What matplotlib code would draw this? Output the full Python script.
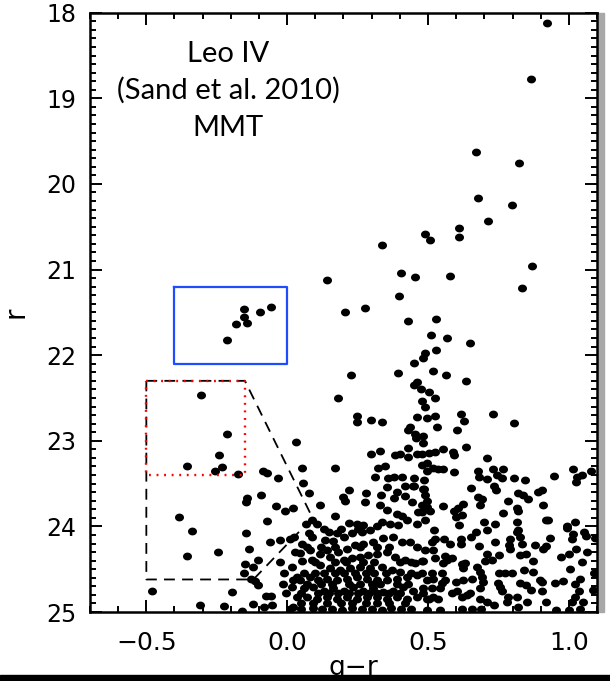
import numpy as np
import matplotlib
matplotlib.use('Agg')
import matplotlib.pyplot as plt
from matplotlib.path import Path
from matplotlib.patches import Rectangle
from matplotlib.ticker import MultipleLocator, FixedLocator, FixedFormatter

# (g-r, r) photometry, grouped by CMD region
bright_stars = [
    (0.921, 18.12), (0.864, 18.77), (0.671, 19.63), (0.823, 19.75), (0.677, 20.17),
    (0.798, 20.25), (0.713, 20.43), (0.609, 20.51), (0.610, 20.62), (0.488, 20.59),
    (0.507, 20.66), (0.338, 20.71), (0.142, 21.12), (0.403, 21.04), (0.453, 21.09),
    (0.579, 21.07), (0.869, 20.96), (0.834, 21.22), (0.397, 21.31), (0.207, 21.50),
    (0.277, 21.45), (0.428, 21.60), (0.528, 21.58), (0.511, 21.77), (0.567, 21.80),
    (0.489, 21.97), (0.528, 21.94), (0.481, 22.03), (0.451, 22.09), (0.649, 21.86),
]

bhb_stars = [
    (-0.152, 21.46), (-0.058, 21.44), (-0.097, 21.50), (-0.152, 21.56),
    (-0.141, 21.62), (-0.181, 21.64), (-0.215, 21.82),
]

bs_stars = [
    (-0.306, 22.47), (-0.212, 22.92), (-0.241, 23.17), (-0.357, 23.29),
    (-0.233, 23.31), (-0.255, 23.35), (-0.175, 23.39),
]

rgb_stars = [
    (0.226, 22.23), (0.393, 22.21), (0.519, 22.19), (0.563, 22.23), (0.635, 22.30),
    (0.180, 22.50), (0.460, 22.31), (0.451, 22.35), (0.476, 22.40), (0.502, 22.43),
    (0.525, 22.50), (0.479, 22.53), (0.490, 22.60), (0.496, 22.73), (0.525, 22.71),
    (0.531, 22.84), (0.618, 22.69), (0.628, 22.77), (0.602, 22.88), (0.729, 22.69),
    (0.806, 22.79), (0.635, 23.07), (0.483, 22.95), (0.483, 23.03), (0.478, 23.15),
    (0.502, 23.14), (0.525, 23.13), (0.552, 23.10), (0.590, 23.13), (0.592, 23.17),
    (0.496, 23.26), (0.478, 23.28), (0.496, 23.35), (0.537, 23.33), (0.554, 23.33),
    (0.593, 23.37), (0.486, 23.46), (0.486, 23.56), (0.249, 22.71), (0.249, 22.78),
    (0.297, 22.76), (0.336, 22.78), (0.462, 22.72), (0.436, 22.84), (0.454, 22.92),
    (0.430, 22.88), (0.457, 22.97), (0.298, 23.15), (0.330, 23.12), (0.383, 23.17),
    (0.401, 23.15), (0.430, 23.09), (0.430, 23.19), (0.460, 23.15), (0.052, 23.32),
    (0.170, 23.32), (0.359, 23.43), (0.381, 23.42), (0.407, 23.42), (0.451, 23.53),
    (0.451, 23.43), (0.489, 23.63), (0.519, 23.32), (0.348, 23.30), (0.324, 23.32),
    (0.312, 23.42), (0.031, 23.02), (-0.085, 23.35), (-0.072, 23.38), (-0.031, 23.44),
    (0.708, 23.20), (0.678, 23.35), (0.682, 23.42), (0.708, 23.45), (0.732, 23.33),
    (0.767, 23.33), (0.744, 23.40), (0.761, 23.43), (0.806, 23.43), (0.844, 23.46),
    (0.734, 23.53), (0.741, 23.58), (0.652, 23.55), (0.820, 23.61), (0.838, 23.63),
    (0.856, 23.68), (0.891, 23.60), (0.905, 23.58), (0.947, 23.41), (1.015, 23.33),
    (1.030, 23.42), (1.027, 23.48), (1.048, 23.40), (1.080, 23.35),
]

faint_blue = [
    (-0.383, 23.89), (-0.338, 24.05), (-0.355, 24.35), (-0.245, 24.30), (-0.480, 24.76),
    (-0.309, 24.92), (-0.195, 24.77), (-0.223, 24.93), (-0.143, 23.67), (-0.145, 23.71),
    (-0.092, 23.63), (-0.038, 23.76), (-0.007, 23.82), (0.020, 23.78), (-0.071, 23.94),
    (-0.145, 24.08), (-0.061, 24.18), (-0.027, 24.16), (-0.136, 24.26), (-0.102, 24.39),
    (-0.149, 24.44), (-0.123, 24.48), (-0.129, 24.62), (-0.105, 24.69), (-0.123, 24.91),
    (-0.076, 24.81), (-0.058, 24.81), (-0.084, 24.94), (-0.054, 24.92), (-0.027, 24.42),
    (-0.010, 24.55), (-0.015, 24.67), (-0.004, 24.78), (0.018, 24.47), (0.022, 24.63),
    (0.019, 24.94), (0.025, 24.12), (0.011, 24.15), (0.027, 24.30), (-0.155, 24.54),
    (-0.113, 24.64), (-0.161, 24.99),
]

faint_msto = [
    (0.056, 23.49), (0.078, 23.61), (0.116, 23.75), (0.197, 23.66), (0.221, 23.58),
    (0.206, 23.70), (0.280, 23.61), (0.277, 23.71), (0.353, 23.54), (0.389, 23.60),
    (0.417, 23.53), (0.448, 23.53), (0.484, 23.56), (0.333, 23.63), (0.379, 23.67),
    (0.418, 23.65), (0.442, 23.71), (0.466, 23.83), (0.495, 23.77), (0.330, 23.75),
    (0.353, 23.81), (0.389, 23.85), (0.407, 23.88), (0.170, 23.88), (0.220, 23.96),
    (0.247, 23.97), (0.271, 23.98), (0.067, 23.97), (0.107, 23.97), (0.076, 24.08),
    (0.087, 24.12), (0.147, 24.06), (0.176, 24.08), (0.135, 24.16), (0.164, 24.17),
    (0.200, 24.12), (0.229, 24.08), (0.265, 24.06), (0.294, 24.04), (0.318, 24.00),
    (0.336, 23.95), (0.365, 23.97), (0.395, 23.98), (0.424, 23.93), (0.460, 23.97),
    (0.489, 23.93), (0.052, 24.20), (0.052, 24.41), (0.087, 24.39), (0.046, 24.31),
    (0.082, 24.28), (0.117, 24.32), (0.141, 24.28), (0.152, 24.36), (0.182, 24.30),
    (0.212, 24.26), (0.241, 24.22), (0.271, 24.20), (0.306, 24.18), (0.342, 24.14),
    (0.377, 24.12), (0.407, 24.18), (0.436, 24.18), (0.460, 24.24), (0.489, 24.28),
    (0.200, 24.39), (0.229, 24.37), (0.259, 24.36), (0.288, 24.34), (0.318, 24.32),
    (0.353, 24.30), (0.383, 24.36), (0.418, 24.39), (0.454, 24.43), (0.484, 24.41),
    (0.117, 24.45), (0.152, 24.49), (0.188, 24.51), (0.223, 24.49), (0.259, 24.47),
    (0.294, 24.49), (0.336, 24.47), (0.371, 24.51), (0.401, 24.53), (0.034, 24.59),
    (0.046, 24.63), (0.082, 24.59), (0.111, 24.63), (0.141, 24.61), (0.176, 24.63),
    (0.212, 24.61), (0.247, 24.59), (0.283, 24.61), (0.318, 24.63), (0.353, 24.63),
    (0.389, 24.61), (0.424, 24.59), (0.460, 24.57), (0.495, 24.63), (0.017, 24.71),
    (0.058, 24.72), (0.093, 24.71), (0.129, 24.75), (0.164, 24.72), (0.200, 24.75),
    (0.235, 24.71), (0.271, 24.75), (0.306, 24.72), (0.342, 24.77), (0.377, 24.75),
    (0.412, 24.71), (0.448, 24.75), (0.484, 24.72), (0.034, 24.83), (0.070, 24.82),
    (0.105, 24.85), (0.141, 24.83), (0.176, 24.85), (0.212, 24.82), (0.247, 24.85),
    (0.283, 24.83), (0.318, 24.82), (0.353, 24.85), (0.389, 24.83), (0.424, 24.85),
    (0.460, 24.82), (0.495, 24.85), (0.011, 24.96), (0.050, 24.97), (0.090, 24.95),
    (0.125, 24.97), (0.160, 24.96), (0.195, 24.98), (0.230, 24.95), (0.265, 24.97),
    (0.300, 24.96), (0.335, 24.98), (0.370, 24.95), (0.405, 24.97), (0.440, 24.96),
    (0.087, 23.93),
]

# crowded core of the main-sequence turnoff
faint_core = [
    (0.130, 24.03), (0.190, 24.03), (0.250, 24.03),
    (0.070, 24.24), (0.120, 24.24), (0.170, 24.24), (0.260, 24.24), (0.320, 24.24),
    (0.360, 24.24),
    (0.100, 24.42), (0.170, 24.42), (0.210, 24.42), (0.270, 24.42), (0.310, 24.42),
    (0.400, 24.42), (0.440, 24.42),
    (0.060, 24.55), (0.100, 24.55), (0.130, 24.55), (0.170, 24.55), (0.200, 24.55),
    (0.240, 24.55), (0.280, 24.55), (0.310, 24.55), (0.350, 24.55), (0.440, 24.55),
    (0.070, 24.67), (0.120, 24.67), (0.160, 24.67), (0.220, 24.67), (0.260, 24.67),
    (0.300, 24.67), (0.330, 24.67), (0.390, 24.67), (0.430, 24.67),
    (0.050, 24.78), (0.110, 24.78), (0.150, 24.78), (0.180, 24.78), (0.220, 24.78),
    (0.250, 24.78), (0.290, 24.78), (0.320, 24.78), (0.360, 24.78), (0.400, 24.78),
    (0.050, 24.90), (0.090, 24.90), (0.140, 24.90), (0.190, 24.90), (0.230, 24.90),
    (0.280, 24.90), (0.320, 24.90), (0.360, 24.90), (0.420, 24.90),
]

faint_red = [
    (0.478, 23.75), (0.496, 23.70), (0.507, 23.82), (0.478, 23.83), (0.552, 23.76),
    (0.593, 23.82), (0.608, 23.79), (0.623, 23.74), (0.599, 23.89), (0.620, 23.87),
    (0.611, 23.98), (0.678, 23.66), (0.690, 23.68), (0.684, 23.75), (0.785, 23.70),
    (0.765, 23.84), (0.815, 23.79), (0.820, 23.82), (0.907, 23.75), (0.918, 23.92),
    (0.927, 23.93), (0.815, 23.95), (0.820, 24.04), (0.699, 23.95), (0.738, 23.97),
    (0.708, 24.04), (0.670, 24.07), (0.651, 24.12), (0.522, 24.04), (0.525, 24.15),
    (0.513, 24.18), (0.557, 24.15), (0.578, 24.20), (0.617, 24.15), (0.617, 24.20),
    (0.682, 24.23), (0.738, 24.18), (0.791, 24.15), (0.788, 24.22), (0.826, 24.12),
    (0.815, 24.06), (0.832, 24.20), (0.879, 24.22), (0.918, 24.23), (0.933, 24.13),
    (0.909, 24.26), (0.995, 24.02), (1.021, 23.95), (1.015, 24.09), (1.013, 24.15),
    (1.053, 24.06), (1.060, 24.11), (1.063, 24.30), (1.092, 24.14), (1.001, 24.32),
    (0.971, 24.36), (1.004, 24.50), (1.047, 24.42), (0.519, 24.28), (0.525, 24.37),
    (0.560, 24.35), (0.566, 24.39), (0.554, 24.43), (0.584, 24.37), (0.620, 24.44),
    (0.631, 24.43), (0.626, 24.49), (0.673, 24.47), (0.684, 24.53), (0.690, 24.59),
    (0.696, 24.65), (0.708, 24.32), (0.702, 24.41), (0.726, 24.39), (0.753, 24.34),
    (0.791, 24.26), (0.826, 24.34), (0.848, 24.32), (0.873, 24.41), (0.841, 24.51),
    (0.873, 24.53), (0.753, 24.54), (0.774, 24.55), (0.797, 24.55), (0.747, 24.66),
    (0.755, 24.71), (0.761, 24.75), (0.826, 24.66), (0.848, 24.69), (0.864, 24.74),
    (0.903, 24.65), (0.903, 24.76), (0.950, 24.66), (0.978, 24.64), (1.021, 24.67),
    (1.039, 24.61), (1.035, 24.75), (1.087, 24.74), (1.089, 24.54), (1.021, 24.82),
    (1.013, 24.88), (1.051, 24.88), (1.001, 24.98), (1.039, 24.96), (0.956, 24.98),
    (0.918, 24.88), (0.850, 24.88), (0.817, 24.82), (0.785, 24.83), (0.781, 24.88),
    (0.820, 24.94), (0.708, 24.88), (0.684, 24.85), (0.688, 24.96), (0.655, 24.96),
    (0.684, 24.72), (0.649, 24.78), (0.637, 24.80), (0.620, 24.83), (0.602, 24.75),
    (0.584, 24.78), (0.599, 24.65), (0.626, 24.63), (0.655, 24.61), (0.560, 24.63),
    (0.548, 24.66), (0.543, 24.72), (0.519, 24.61), (0.513, 24.72), (0.519, 24.83),
    (0.537, 24.85), (0.502, 24.85), (0.483, 24.78), (0.496, 24.98), (0.543, 24.98),
    (0.548, 24.54), (0.478, 24.54), (0.513, 24.54), (0.478, 24.41), (0.736, 24.92),
    (0.898, 24.63), (0.992, 24.00), (1.027, 24.26), (0.621, 24.97),
]

# selection regions
bhb_box = (-0.4, 0.0, 21.2, 22.1)        # g-r min, max, r min, max
bs_box = (-0.5, -0.15, 22.3, 23.4)
sel_poly_gr = [-0.5, -0.15, 0.09, -0.12, -0.5, -0.5]
sel_poly_r = [22.3, 22.3, 23.9, 24.62, 24.62, 22.3]

title_lines = ['Leo IV', '(Sand et al. 2010)', 'MMT']

W, H = 610, 681
fig = plt.figure(figsize=(W / 100, H / 100), dpi=100)
ax = fig.add_axes([90 / W, 69 / H, 507 / W, 599.3 / H])

# slightly flattened dot marker
t = np.linspace(0, 2 * np.pi, 40)
dot = Path(np.column_stack([1.15 * np.cos(t), np.sin(t)]))

for group in [bright_stars, bhb_stars, bs_stars, rgb_stars, faint_blue, faint_msto,
              faint_core, faint_red]:
    arr = np.array(group)
    ax.scatter(arr[:, 0], arr[:, 1], s=42, marker=dot, color='black',
               linewidths=0, zorder=3)

x0, x1, y0, y1 = bhb_box
ax.plot([x0, x1, x1, x0, x0], [y0, y0, y1, y1, y0], color='#1e4cff', lw=1.6, zorder=4)

ax.plot(sel_poly_gr, sel_poly_r, color='black', lw=1.3, dashes=(6, 4), zorder=4)

x0, x1, y0, y1 = bs_box
ax.plot([x0, x1, x1, x0, x0], [y0, y0, y1, y1, y0], color='red', lw=1.7,
        linestyle=(0, (0.8, 2.4)), zorder=5)

for i, line in enumerate(title_lines):
    ax.text(-0.21, 18.58 + 0.43 * i, line, fontsize=21, family='Lato',
            ha='center', va='baseline', zorder=6)

ax.set_xlim(-0.7, 1.1)
ax.set_ylim(25, 18)

ax.xaxis.set_major_locator(FixedLocator([-0.5, 0.0, 0.5, 1.0]))
ax.xaxis.set_major_formatter(FixedFormatter(['\u22120.5', '0.0', '0.5', '1.0']))
ax.xaxis.set_minor_locator(MultipleLocator(0.1))
ax.yaxis.set_major_locator(MultipleLocator(1))
ax.yaxis.set_minor_locator(MultipleLocator(0.1))

ax.tick_params(which='both', direction='in', top=True, right=True, width=1.4)
ax.tick_params(which='major', length=8.5)
ax.tick_params(which='minor', length=4.5)
ax.tick_params(axis='x', labelsize=18, pad=14)
ax.tick_params(axis='y', labelsize=17, pad=10)
for sp in ax.spines.values():
    sp.set_linewidth(1.8)

fig.text(353 / W, 6 / H, 'g\u2212r', fontsize=19, ha='center', va='baseline')
fig.text(30 / W, (H - 312) / H, 'r', fontsize=20, rotation=90, ha='right', va='center')

# neighbouring panel edge and bottom frame bar
fig.add_artist(Rectangle((598 / W, 69 / H), 6 / W, 599.3 / H, transform=fig.transFigure,
                         color='#a8a8a8', zorder=0))
fig.add_artist(Rectangle((0, 0), 1, 6 / H, transform=fig.transFigure, color='black', zorder=10))

fig.savefig('out.png', dpi=100)
